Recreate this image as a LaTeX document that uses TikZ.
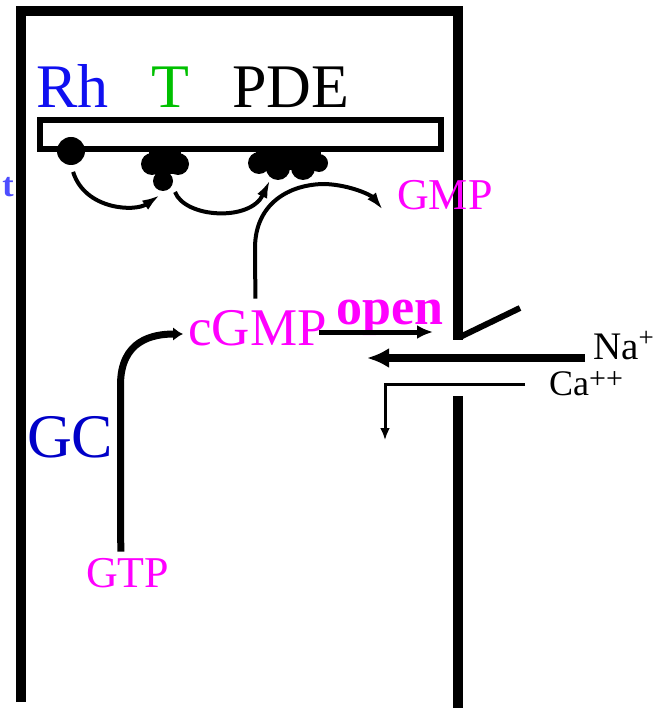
\documentclass[tikz,border=0pt]{standalone}
\usepackage{fontspec}
\setmainfont{Liberation Serif}
\usetikzlibrary{
  arrows.meta,
  calc
}
\definecolor{rhblue}{HTML}{1010F0}
\definecolor{gcblue}{HTML}{0000C8}
\definecolor{tgreen}{HTML}{00C000}
\definecolor{nucl}{HTML}{FF00FF}
\definecolor{lightblue}{HTML}{4D4DFF}
\newcommand{\charge}[3]{\raisebox{#2}{\fontsize{#1}{#1}\selectfont #3}}

\begin{document}
\begin{tikzpicture}[x=1pt, y=-1pt,
    lbl/.style={inner sep=0pt, anchor=base west},
    wall/.style={line width=10pt},
    flow/.style={line width=4pt, -{Latex[length=18pt,width=11pt]}},
  ]
  \useasboundingbox (0,0) rectangle (656,708);
  % cell outline and channel
  \draw[wall] (20.5,702) -- (20.5,11.5) -- (458,11.5) -- (458,340);
  \draw[wall] (458,396) -- (458,708);
  \draw[line width=6pt] (460,337) -- (520,308);
  % disc membrane
  \draw[line width=6pt, fill=white] (40,120) rectangle (441,149);

  \node[lbl, text=rhblue, font=\fontsize{62}{62}\selectfont] (rh) at (36,108) {Rh};
  \node[lbl, text=tgreen, font=\fontsize{62}{62}\selectfont] (tr) at (151,108) {T};
  \node[lbl, font=\fontsize{62}{62}\selectfont] (pde) at (232,108) {PDE};
  \node[inner sep=0pt, anchor=base east, text=lightblue, font=\bfseries\fontsize{34}{34}\selectfont] (light) at (14,197) {t};
  \node[lbl, text=nucl, font=\fontsize{44}{44}\selectfont] (gmp) at (397,210) {GMP};
  \node[lbl, text=nucl, font=\fontsize{53}{53}\selectfont] (cgmp) at (188,345) {cGMP};
  \node[lbl, text=nucl, font=\bfseries\fontsize{52}{52}\selectfont] (open) at (336,324) {open};
  \node[lbl, font=\fontsize{39}{39}\selectfont] (na) at (593,359) {Na\charge{27}{13pt}{+}};
  \node[lbl, font=\fontsize{36}{36}\selectfont] (ca) at (549,395) {Ca\charge{30}{7pt}{++}};
  \node[lbl, text=gcblue, font=\fontsize{62}{62}\selectfont] (gc) at (27,457) {GC};
  \node[lbl, text=nucl, font=\fontsize{44}{44}\selectfont] (gtp) at (86,587) {GTP};

  % proteins on the disc
  \node[circle, fill, inner sep=0pt, minimum size=28pt] (rhdot) at (71,151) {};
  \coordinate (tprot) at (165,170);
  \fill ($(tprot)+(-13,-6)$) circle (11pt) ($(tprot)+(13,-6)$) circle (11pt)
        ($(tprot)+(0,-9)$) circle (12pt) ($(tprot)+(-2,11)$) circle (10pt);
  \fill ($(tprot)+(-16,-19)$) rectangle ($(tprot)+(16,4)$);
  \coordinate (pdeprot) at (288,166);
  \fill ($(pdeprot)+(-29,-3)$) circle (11pt) ($(pdeprot)+(-10,2)$) circle (12pt)
        ($(pdeprot)+(15,2)$) circle (12pt) ($(pdeprot)+(31,-3)$) circle (9pt);
  \fill ($(pdeprot)+(-32,-15)$) rectangle ($(pdeprot)+(33,4)$);

  % cascade
  \draw[flow, shorten <=7pt] (rhdot.south) .. controls (85,210) and (135,212) .. ($(tprot)+(-5,25)$);
  \draw[flow] ($(tprot)+(10,22)$) .. controls (185,218) and (250,222) .. ($(pdeprot)+(-18,14)$);
  \draw[flow] ($(cgmp.north)+(-2,-11)$) -- (255,248)
        .. controls +(0,-45) and +(-35,0) .. (325,184)
        .. controls +(25,1) and +(-12,-15) .. ($(gmp.base west)+(-14,0)$);
  \draw[line width=7pt, -{Latex[length=10pt,width=14pt]}] ($(gtp.north)+(-7,-6)$) -- (120.5,385)
        .. controls +(0,-45) and +(-30,0) .. ($(cgmp.base west)+(-5,-11)$);

  % channel fluxes
  \coordinate (gate) at (433,332);
  \coordinate (inflow) at (367,358);
  \coordinate (cainside) at (385,440);
  \draw[line width=5pt, -{Latex[length=16pt,width=14pt]}] ($(cgmp.base east)+(-8,-13)$) -- (gate);
  \draw[line width=8pt, -{Latex[length=22pt,width=20pt]}] ($(na.base west)+(-8,-1)$) -- (inflow);
  \draw[line width=3pt, -{Latex[length=12pt,width=10pt]}] ($(ca.base west)+(-24,-11)$) -| (cainside);
\end{tikzpicture}
\end{document}
